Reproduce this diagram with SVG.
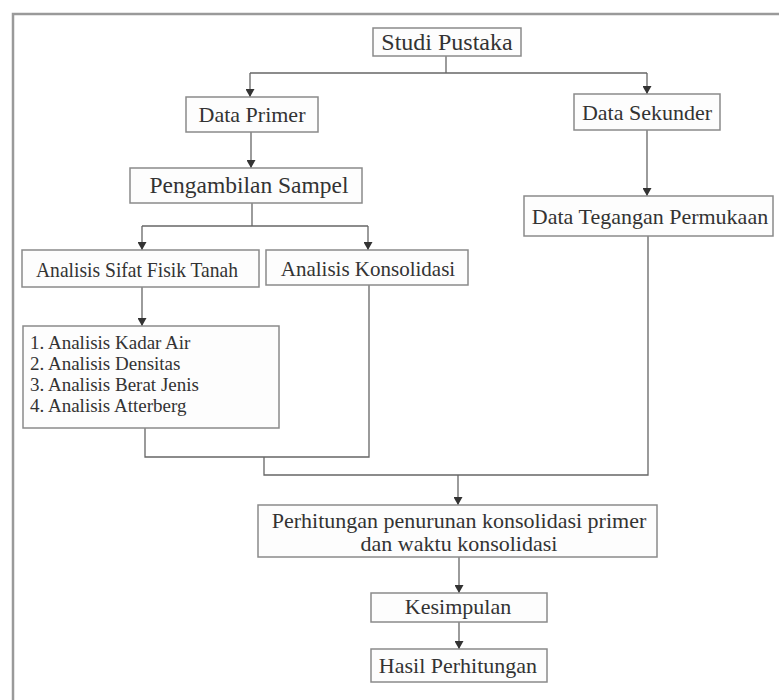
<svg xmlns="http://www.w3.org/2000/svg" width="779" height="700" viewBox="0 0 779 700">
<style>
.box{fill:#fdfdfd;stroke:#8a8a8a;stroke-width:1.5}
.t{font-family:"Liberation Serif","Times New Roman",serif;font-size:22px;fill:#333;text-anchor:middle}
.l{font-family:"Liberation Serif","Times New Roman",serif;font-size:19px;fill:#333}
.c{fill:none;stroke:#666;stroke-width:1.3}
</style>
<defs>
<marker id="ah" markerWidth="8" markerHeight="9" refX="8" refY="4.5" orient="auto" markerUnits="userSpaceOnUse">
<path d="M0,0 L8,4.5 L0,9 z" fill="#333"/>
</marker>
</defs>
<rect width="779" height="700" fill="#fff"/>
<path d="M13,700 V14 H779" fill="none" stroke="#9a9a9a" stroke-width="2.5"/>
<g id="connectors">
<path class="c" d="M446,56 V73"/>
<path class="c" d="M250,73 H647"/>
<path class="c" d="M250,73 V97" marker-end="url(#ah)"/>
<path class="c" d="M647,73 V94" marker-end="url(#ah)"/>
<path class="c" d="M251,132 V168" marker-end="url(#ah)"/>
<path class="c" d="M647,130 V196" marker-end="url(#ah)"/>
<path class="c" d="M252,203 V226"/>
<path class="c" d="M142,226 H368"/>
<path class="c" d="M142,226 V250" marker-end="url(#ah)"/>
<path class="c" d="M368,226 V250" marker-end="url(#ah)"/>
<path class="c" d="M142,287 V326" marker-end="url(#ah)"/>
<path class="c" d="M145,428 V457 H369 V285"/>
<path class="c" d="M264,457 V475 H648 V236"/>
<path class="c" d="M458,475 V505" marker-end="url(#ah)"/>
<path class="c" d="M459,557 V593" marker-end="url(#ah)"/>
<path class="c" d="M459,622 V649" marker-end="url(#ah)"/>
</g>
<g id="studi-pustaka">
<rect class="box" x="373" y="28" width="148" height="28"/>
<text class="t" x="447" y="50" style="font-size:24px">Studi Pustaka</text>
</g>
<g id="data-primer">
<rect class="box" x="186" y="97" width="132" height="35"/>
<text class="t" x="252" y="122">Data Primer</text>
</g>
<g id="data-sekunder">
<rect class="box" x="574" y="94" width="146" height="36"/>
<text class="t" x="647" y="120">Data Sekunder</text>
</g>
<g id="pengambilan-sampel">
<rect class="box" x="130" y="168" width="232" height="35"/>
<text class="t" x="249" y="193" style="font-size:23.5px">Pengambilan Sampel</text>
</g>
<g id="data-tegangan">
<rect class="box" x="524" y="196" width="249" height="40"/>
<text class="t" x="650" y="224">Data Tegangan Permukaan</text>
</g>
<g id="sifat-fisik">
<rect class="box" x="22" y="250" width="237" height="37"/>
<text class="t" x="137" y="277" textLength="202" lengthAdjust="spacingAndGlyphs" style="font-size:21px">Analisis Sifat Fisik Tanah</text>
</g>
<g id="konsolidasi">
<rect class="box" x="266" y="250" width="202" height="35"/>
<text class="t" x="368" y="276" style="font-size:21px">Analisis Konsolidasi</text>
</g>
<g id="daftar-analisis">
<rect class="box" x="23" y="326" width="256" height="102"/>
<text class="l" x="30" y="349">1. Analisis Kadar Air</text>
<text class="l" x="30" y="370">2. Analisis Densitas</text>
<text class="l" x="30" y="391">3. Analisis Berat Jenis</text>
<text class="l" x="30" y="412">4. Analisis Atterberg</text>
</g>
<g id="perhitungan">
<rect class="box" x="258" y="505" width="399" height="52"/>
<text class="t" x="459" y="528">Perhitungan penurunan konsolidasi primer</text>
<text class="t" x="459" y="551">dan waktu konsolidasi</text>
</g>
<g id="kesimpulan">
<rect class="box" x="371" y="593" width="176" height="29"/>
<text class="t" x="458" y="614">Kesimpulan</text>
</g>
<g id="hasil-perhitungan">
<rect class="box" x="371" y="649" width="176" height="33"/>
<text class="t" x="458" y="673">Hasil Perhitungan</text>
</g>
</svg>
